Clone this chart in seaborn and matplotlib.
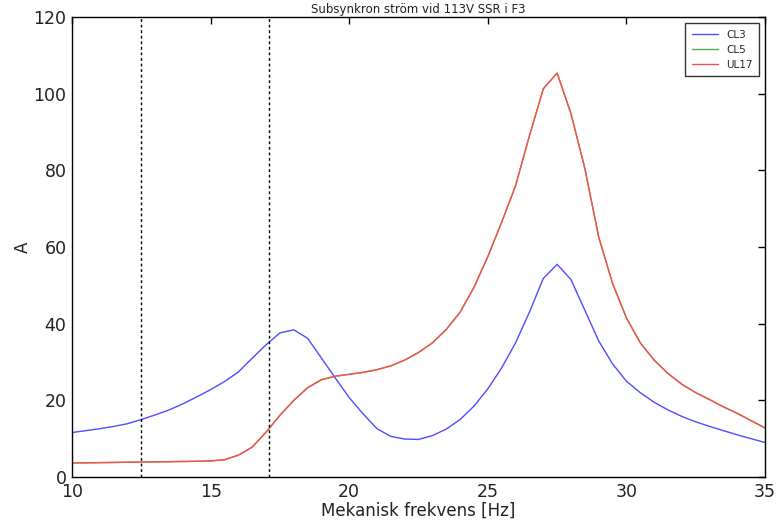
import numpy as np
import pandas as pd
import matplotlib
matplotlib.use("Agg")
import matplotlib.pyplot as plt
import seaborn as sns

freq = [10, 10.5, 11, 11.5, 12, 12.5, 13, 13.5, 14, 14.5, 15, 15.5, 16, 16.5, 17, 17.5,
        18, 18.5, 19, 19.5, 20, 20.5, 21, 21.5, 22, 22.5, 23, 23.5, 24, 24.5, 25, 25.5,
        26, 26.5, 27, 27.5, 28, 28.5, 29, 29.5, 30, 30.5, 31, 31.5, 32, 32.5, 33, 33.5,
        34, 34.5, 35]
cl3 = [11.6, 12.1, 12.6, 13.2, 13.9, 15.0, 16.2, 17.5, 19.1, 20.9, 22.8, 24.9, 27.4, 31.0,
       34.5, 37.6, 38.4, 36.2, 31.0, 25.8, 20.7, 16.5, 12.6, 10.6, 9.9, 9.8, 10.8, 12.5,
       15.0, 18.5, 23.0, 28.5, 35.0, 43.0, 51.8, 55.5, 51.5, 43.5, 35.5, 29.5, 25.0, 22.0,
       19.5, 17.5, 15.8, 14.4, 13.2, 12.1, 11.0, 10.0, 9.0]
ul17 = [3.7, 3.7, 3.75, 3.8, 3.85, 3.9, 3.95, 4.0, 4.05, 4.1, 4.2, 4.5, 5.7, 7.8, 11.7,
        16.1, 20.0, 23.3, 25.4, 26.3, 26.8, 27.3, 28.0, 29.0, 30.5, 32.5, 35.0, 38.5,
        43.0, 49.5, 57.5, 66.5, 76.0, 89.0, 101.3, 105.4, 94.8, 80.5, 62.6, 50.5, 41.5,
        35.0, 30.5, 27.0, 24.2, 22.0, 20.2, 18.3, 16.6, 14.7, 12.8]
cl5 = list(ul17)

series_names = ["CL3", "CL5", "UL17"]
series_colors = ["#4d4dff", "#4daf4d", "#ff4d4d"]
vlines = [12.5, 17.1]

df = pd.concat([
    pd.DataFrame({"f": freq, "A": cl3, "s": "CL3"}),
    pd.DataFrame({"f": freq, "A": cl5, "s": "CL5"}),
    pd.DataFrame({"f": freq, "A": ul17, "s": "UL17"}),
])

sns.set_style("white")
plt.rcParams["font.family"] = ["DejaVu Sans"]

fig = plt.figure(figsize=(7.77, 5.22), dpi=100)
ax = fig.add_axes([0.0927, 0.0862, 0.8919, 0.881])

sns.lineplot(data=df, x="f", y="A", hue="s", hue_order=series_names,
             palette=dict(zip(series_names, series_colors)), ax=ax,
             linewidth=1.0, estimator=None, sort=False)

for v in vlines:
    ax.axvline(v, color="black", linestyle=(0, (2, 2)), linewidth=1.0)

ax.set_xlim(10, 35)
ax.set_ylim(0, 120)
ax.set_xticks([10, 15, 20, 25, 30, 35])
ax.set_yticks([0, 20, 40, 60, 80, 100, 120])
ax.tick_params(direction="in", top=True, right=True, length=5, width=1,
               labelsize=12.5, colors="black", labelcolor="#222222", pad=4)
for sp in ax.spines.values():
    sp.set_color("black")
    sp.set_linewidth(1.0)

ax.set_xlabel("Mekanisk frekvens [Hz]", fontsize=12, labelpad=1, color="#222222")
ax.set_ylabel("A", fontsize=12, color="#222222")
ax.yaxis.set_label_coords(-0.058, 0.5)
ax.set_title("Subsynkron ström vid 113V SSR i F3", fontsize=8.5, pad=3, color="#222222")

leg = ax.legend(loc="upper right", fontsize=7.5, frameon=True, fancybox=False,
                borderaxespad=0.6, handlelength=2.5, borderpad=0.6, labelspacing=0.5)
leg.get_frame().set_edgecolor("black")
leg.get_frame().set_linewidth(1.0)
for line in leg.get_lines():
    line.set_linewidth(1.0)

fig.savefig("out.png", dpi=100)
